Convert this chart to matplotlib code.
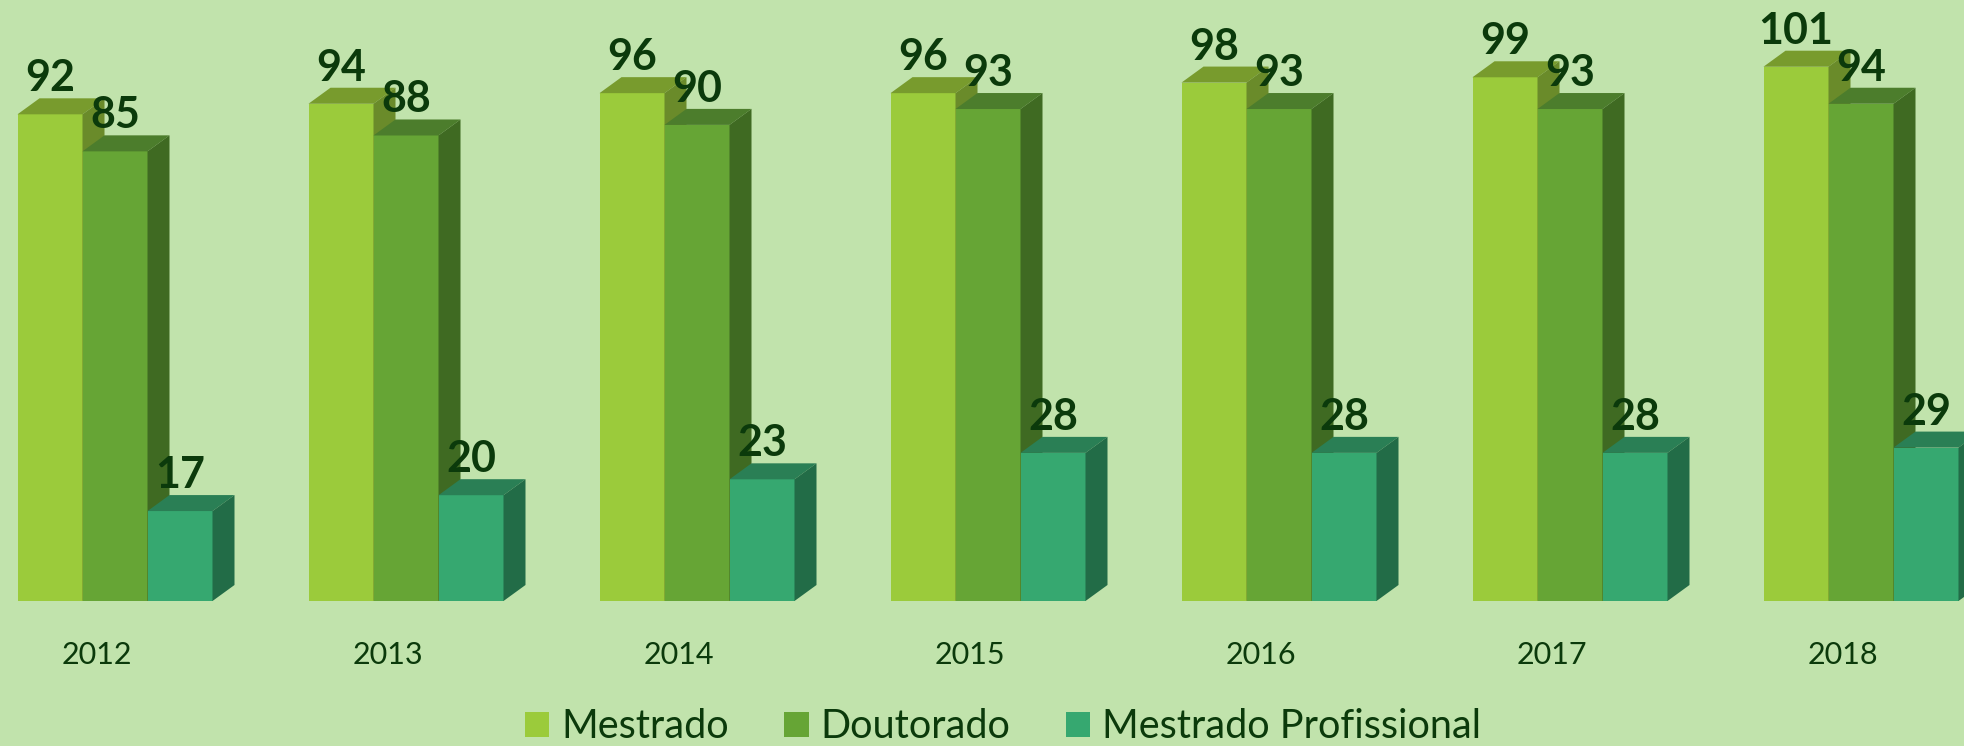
import matplotlib.pyplot as plt
from matplotlib.patches import Polygon, Patch

years = ['2012', '2013', '2014', '2015', '2016', '2017', '2018']
mestrado = [92, 94, 96, 96, 98, 99, 101]
doutorado = [85, 88, 90, 93, 93, 93, 94]
profissional = [17, 20, 23, 28, 28, 28, 29]
series_names = ['Mestrado', 'Doutorado', 'Mestrado Profissional']

# front, top, side colours for each series
colors = [
    ('#9BCB3B', '#789B2D', '#6A8B2A'),
    ('#66A535', '#4C7D2C', '#3F6A22'),
    ('#36A870', '#2A7F55', '#226C47'),
]
bg = '#C1E3AC'
txt = '#0B3A0B'

W, H = 1964, 746
fig = plt.figure(figsize=(W / 100, H / 100), dpi=100, facecolor=bg)
ax = fig.add_axes([0, 0, 1, 1])
ax.set_facecolor(bg)
ax.axis('off')

# pixel geometry -> data units
px_group = 291.0
px_unit = 5.29
base_px = 145.0
ax.set_xlim(-17.5 / px_group, (W - 17.5) / px_group)
ax.set_ylim(-base_px / px_unit, (H - base_px) / px_unit)

w = 65 / px_group
ddx = 22 / px_group
ddy = 16 / px_unit

for i in range(len(years)):
    for j, vals in enumerate([mestrado, doutorado, profissional]):
        v = vals[i]
        front, top, side = colors[j]
        x0 = i + j * w
        ax.bar(x0, v, width=w, align='edge', color=front, linewidth=0)
        ax.add_patch(Polygon([(x0, v), (x0 + w, v), (x0 + w + ddx, v + ddy), (x0 + ddx, v + ddy)],
                             closed=True, facecolor=top, edgecolor='none'))
        ax.add_patch(Polygon([(x0 + w, 0), (x0 + w + ddx, ddy), (x0 + w + ddx, v + ddy), (x0 + w, v)],
                             closed=True, facecolor=side, edgecolor='none'))

for i in range(len(years)):
    for j, vals in enumerate([mestrado, doutorado, profissional]):
        v = vals[i]
        x0 = i + j * w
        ax.text(x0 + w / 2, v + ddy, str(v), ha='center', va='bottom',
                fontsize=31, fontweight='bold', family='Lato', color=txt, zorder=10)
    ax.text(i + 0.272, -10.2, years[i], ha='center', va='center',
            fontsize=22, family='Lato', color=txt)

handles = [Patch(facecolor=colors[k][0], edgecolor='none') for k in range(3)]
fig.legend(handles, series_names, loc='center', bbox_to_anchor=(0.5107, 1 - 727 / H),
           ncol=3, frameon=False, prop={'family': 'Lato', 'size': 28.5},
           labelcolor=txt, handlelength=0.62, handleheight=0.62, handletextpad=0.3,
           columnspacing=1.4, borderpad=0, borderaxespad=0)

fig.savefig('out.png', dpi=100, facecolor=bg)
